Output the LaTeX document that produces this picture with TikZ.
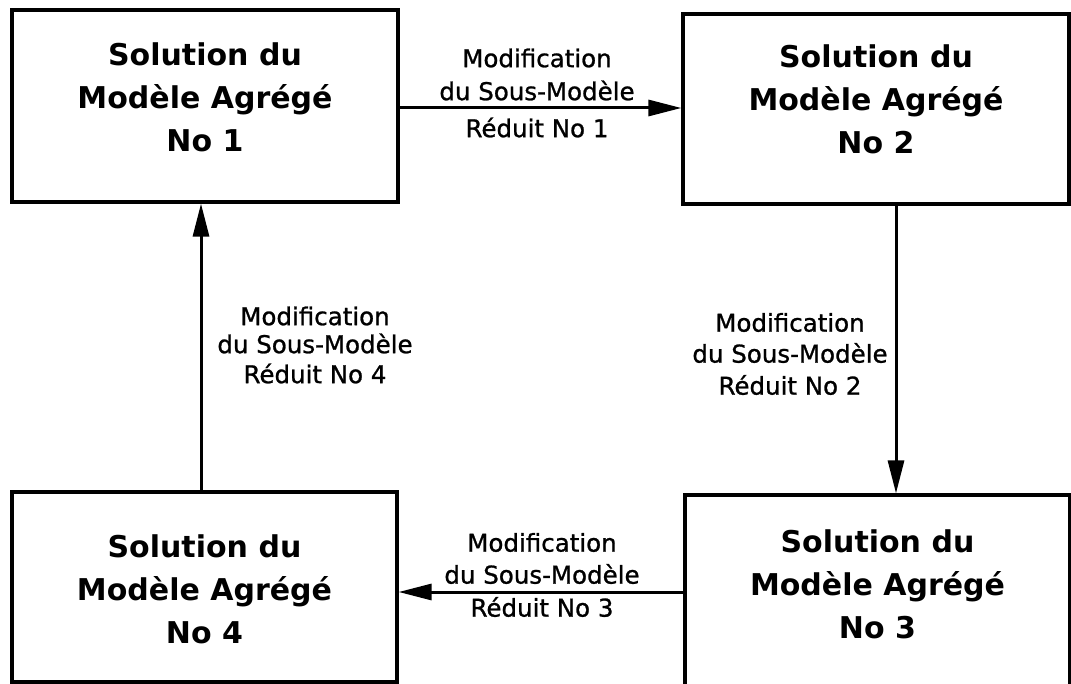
\documentclass[tikz,border=0pt]{standalone}
\usepackage{fontspec}
\setmainfont{DejaVu Sans}
\newfontfamily\labelfont{DejaVu Sans}[FakeBold=1]
\usetikzlibrary{arrows.meta,calc}
\begin{document}
\begin{tikzpicture}[x=1pt,y=-1pt,
  box/.style={draw,line width=3.2pt,rectangle,inner sep=0pt},
  btext/.style={align=center,font=\fontsize{30}{43}\selectfont\bfseries},
  ltext/.style={align=center,font=\labelfont\fontsize{24.5}{31}\selectfont},
  arr/.style={line width=3pt,-{Triangle[length=33pt,width=16pt]}}]
\useasboundingbox (0,0) rectangle (1071,684);
% boxes
\node[box,minimum width=386pt,minimum height=192pt] (b1) at (205,106) {};
\node[box,minimum width=386pt,minimum height=190pt] (b2) at (876,109) {};
\node[box,minimum width=385pt,minimum height=192pt] (b3) at (877.5,591) {};
\node[box,minimum width=385pt,minimum height=190pt] (b4) at (204.5,587) {};
% box texts
\node[btext] (t1) at (205,97) {Solution du\\Modèle Agrégé\\No 1};
\node[btext] (t2) at (876,99) {Solution du\\Modèle Agrégé\\No 2};
\node[btext] (t3) at (877.5,584) {Solution du\\Modèle Agrégé\\No 3};
\node[btext] (t4) at (204.5,589) {Solution du\\Modèle Agrégé\\No 4};
% arrows
\coordinate (a1s) at ($(b1.east)+(0,2)$);
\draw[arr] (a1s) -- (a1s -| b2.west);
\coordinate (a2s) at ($(b2.south)+(20,0)$);
\draw[arr] (a2s) -- (a2s |- b3.north);
\coordinate (a3s) at ($(b3.west)+(0,1)$);
\draw[arr] (a3s) -- (a3s -| b4.east);
\coordinate (a4s) at ($(b4.north)+(-3.5,0)$);
\draw[arr] (a4s) -- (a4s |- b1.south);
% labels
\node[ltext] (l1) at (537,93) {Modification\\[2pt]du Sous-Modèle\\[6pt]Réduit No 1};
\node[ltext] (l2) at (790,354) {Modification\\du Sous-Modèle\\[1pt]Réduit No 2};
\node[ltext] (l3) at (542,575) {Modification\\[1pt]du Sous-Modèle\\[2pt]Réduit No 3};
\node[ltext] (l4) at (315,345) {Modification\\[-3pt]du Sous-Modèle\\[-1pt]Réduit No 4};
\end{tikzpicture}
\end{document}
